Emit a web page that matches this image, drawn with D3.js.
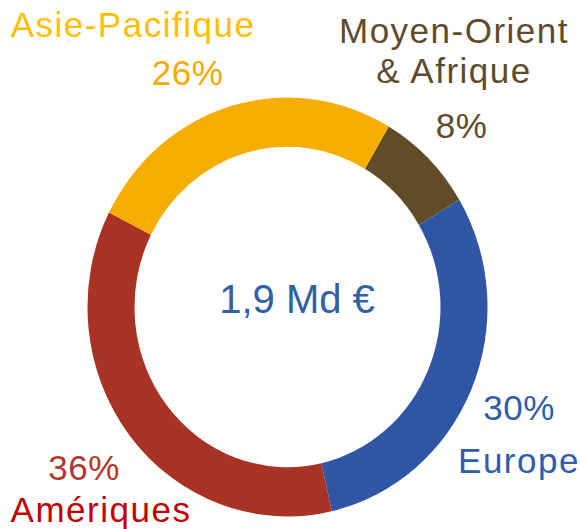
<!DOCTYPE html>
<html>
<head>
<meta charset="utf-8">
<script src="https://cdn.jsdelivr.net/npm/d3@7"></script>
<style>
  html, body { margin: 0; padding: 0; background: #ffffff; }
  svg { display: block; }
  text { font-family: "Liberation Sans", Arial, sans-serif; }
</style>
</head>
<body>
<svg id="chart" width="581" height="529"></svg>
<script>
// Sales split by region (share of 1,9 Md €), clockwise from the top-right
const regions = ["Moyen-Orient & Afrique", "Europe", "Amériques", "Asie-Pacifique"];
const shares = [8, 30, 36, 26];
const ringColors = ["#624c28", "#2f55a4", "#a83223", "#f5ad00"];
const totalLabel = "1,9 Md €";

const svg = d3.select("#chart");
const cx = 287.5, cy = 307;
const outerR = 200, innerR = 153;

const pie = d3.pie().sort(null).value(d => d)
  .startAngle(30.4 * Math.PI / 180)
  .endAngle(30.4 * Math.PI / 180 + 2 * Math.PI);
const arc = d3.arc().innerRadius(innerR).outerRadius(outerR);

const ring = svg.append("g")
  .attr("transform", `translate(${cx},${cy}) scale(1,1.047)`);

ring.selectAll("path")
  .data(pie(shares))
  .join("path")
  .attr("d", arc)
  .attr("fill", (d, i) => ringColors[i]);

// Centre total
svg.append("text")
  .attr("x", 297).attr("y", 313)
  .attr("text-anchor", "middle")
  .attr("font-size", 40)
  .attr("fill", "#3062a2")
  .text(totalLabel);

// Region labels: name lines and percentage
const pct = v => `${v}%`;
const labels = [
  { lines: ["Asie-Pacifique"], x: 133, y: 37, color: "#ffbe00",
    pct: pct(shares[3]), px: 187.5, py: 85, pcolor: "#f5aa00" },
  { lines: ["Moyen-Orient", "& Afrique"], x: 454, y: 43, color: "#5f4b2b",
    pct: pct(shares[0]), px: 461.5, py: 138, pcolor: "#5f4b2b" },
  { lines: ["Europe"], x: 519, y: 473, color: "#2f5daa",
    pct: pct(shares[1]), px: 519, py: 420, pcolor: "#2f5daa" },
  { lines: ["Amériques"], x: 101, y: 522, color: "#c00000",
    pct: pct(shares[2]), px: 84, py: 480, pcolor: "#b0382c" }
];

labels.forEach(l => {
  l.lines.forEach((t, j) => {
    svg.append("text")
      .attr("x", l.x).attr("y", l.y + j * 40)
      .attr("text-anchor", "middle")
      .attr("font-size", 35)
      .attr("letter-spacing", 1.5)
      .attr("fill", l.color)
      .text(t);
  });
  svg.append("text")
    .attr("x", l.px).attr("y", l.py)
    .attr("text-anchor", "middle")
    .attr("font-size", 35)
    .attr("letter-spacing", 0.5)
    .attr("fill", l.pcolor)
    .text(l.pct);
});
</script>
</body>
</html>
